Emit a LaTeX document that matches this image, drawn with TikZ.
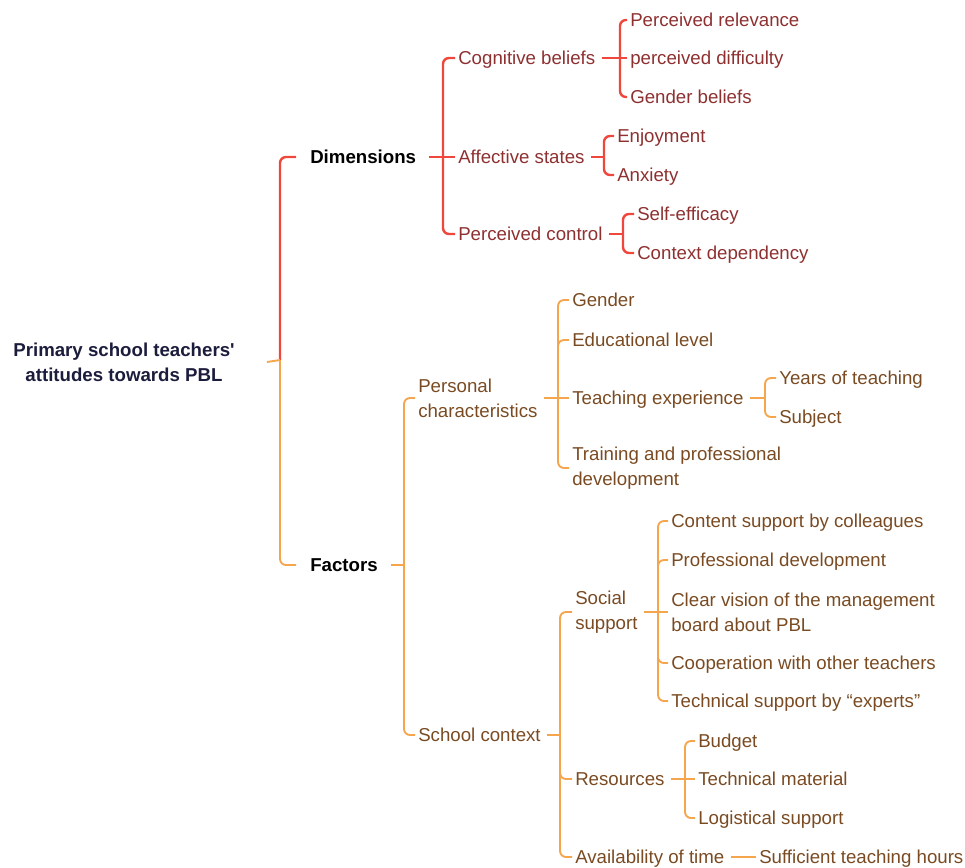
\documentclass[tikz,border=0pt]{standalone}
\usepackage{fontspec}
\setmainfont{Liberation Sans}
\usetikzlibrary{calc}
\definecolor{redline}{HTML}{F0473D}
\definecolor{redtext}{HTML}{8E3030}
\definecolor{orline}{HTML}{F5A54C}
\definecolor{ortext}{HTML}{7A4B22}
\definecolor{roottext}{HTML}{1C1C3C}
\tikzset{
  lbl/.style={anchor=west, inner sep=0pt, font=\fontsize{14}{18.75}\selectfont, text height=10pt, text depth=0pt},
  mlbl/.style={anchor=west, inner sep=0pt, font=\fontsize{14}{18.75}\selectfont, align=left},
  rl/.style={lbl, text=redtext},
  ol/.style={lbl, text=ortext},
  oml/.style={mlbl, text=ortext},
  bl/.style={lbl, text=black, font=\fontsize{14}{18.75}\selectfont\bfseries},
  rline/.style={draw=redline, line width=1.8pt, rounded corners=4.5pt},
  oline/.style={draw=orline, line width=1.4pt, rounded corners=4.5pt},
}
\begin{document}
\begin{tikzpicture}[x=0.75pt,y=-0.75pt]
\useasboundingbox (0,0) rectangle (965,868);
% root
\node[inner sep=0pt, align=center, text=roottext, font=\fontsize{14}{18.75}\selectfont\bfseries] (root) at (124,362) {Primary school teachers\textquotesingle\\attitudes towards PBL};
\node[bl] (dim) at (310,157) {Dimensions};
\node[bl] (fac) at (310,565) {Factors};
% dimensions subtree
\node[rl] (cog) at (458,58) {Cognitive beliefs};
\node[rl] (aff) at (458,157) {Affective states};
\node[rl] (pc) at (458,234) {Perceived control};
\node[rl] (rel) at (630,20) {Perceived relevance};
\node[rl] (dif) at (630,58) {perceived difficulty};
\node[rl] (gen) at (630,97) {Gender beliefs};
\node[rl] (enj) at (617,136) {Enjoyment};
\node[rl] (anx) at (617,175) {Anxiety};
\node[rl] (se) at (637,214) {Self-efficacy};
\node[rl] (cd) at (637,253) {Context dependency};
% factors subtree
\node[oml] (per) at (418,398) {Personal\\characteristics};
\node[ol] (sch) at (418,735) {School context};
\node[ol] (gnd) at (572,300) {Gender};
\node[ol] (edu) at (572,340) {Educational level};
\node[ol] (tex) at (572,398) {Teaching experience};
\node[oml] (trn) at (572,468) {Training and professional\\development};
\node[ol] (yrs) at (779,378) {Years of teaching};
\node[ol] (sub) at (779,417) {Subject};
\node[oml] (soc) at (575,612) {Social\\support};
\node[ol] (res) at (575,779) {Resources};
\node[ol] (av) at (575,857) {Availability of time};
\node[ol] (con) at (671,521) {Content support by colleagues};
\node[ol] (pd) at (671,560) {Professional development};
\node[oml] (cv) at (671,612) {Clear vision of the management\\board about PBL};
\node[ol] (coop) at (671,663) {Cooperation with other teachers};
\node[ol] (tech) at (671,701) {Technical support by “experts”};
\node[ol] (bud) at (698,741) {Budget};
\node[ol] (tm) at (698,779) {Technical material};
\node[ol] (log) at (698,818) {Logistical support};
\node[ol] (suf) at (759,857) {Sufficient teaching hours};
% junctions
\coordinate (jroot) at (280,360);
\coordinate (jdim) at (443,157);
\coordinate (jcog) at (620,58);
\coordinate (jaff) at (604,157);
\coordinate (jpc) at (623,234);
\coordinate (jfac) at (404,565);
\coordinate (jper) at (558,398);
\coordinate (jtex) at (765,398);
\coordinate (jsch) at (560,735);
\coordinate (jsoc) at (658,612);
\coordinate (jres) at (685,779);
% root connectors
\draw[rline] (jroot) |- ($(dim.west)+(-14,0)$);
\draw[oline] (jroot) |- ($(fac.west)+(-14,0)$);
\draw[oline] ($(root.east)+(32,0)$) -- (jroot);
% dimensions
\draw[rline] ($(dim.east)+(13,0)$) -- ($(aff.west)+(-3,0)$);
\foreach \c in {cog,pc} \draw[rline] (jdim) |- ($(\c.west)+(-3,0)$);
\draw[rline] ($(cog.east)+(6,0)$) -- ($(dif.west)+(-3,0)$);
\foreach \c in {rel,gen} \draw[rline] (jcog) |- ($(\c.west)+(-3,0)$);
\draw[rline] ($(aff.east)+(6,0)$) -- (jaff);
\foreach \c in {enj,anx} \draw[rline] (jaff) |- ($(\c.west)+(-3,0)$);
\draw[rline] ($(pc.east)+(6,0)$) -- (jpc);
\foreach \c in {se,cd} \draw[rline] (jpc) |- ($(\c.west)+(-3,0)$);
% factors
\draw[oline] ($(fac.east)+(13,0)$) -- (jfac);
\foreach \c in {per,sch} \draw[oline] (jfac) |- ($(\c.west)+(-3,0)$);
\draw[oline] ($(per.east)+(6,0)$) -- ($(tex.west)+(-3,0)$);
\foreach \c in {gnd,edu,trn} \draw[oline] (jper) |- ($(\c.west)+(-3,0)$);
\draw[oline] ($(tex.east)+(6,0)$) -- (jtex);
\foreach \c in {yrs,sub} \draw[oline] (jtex) |- ($(\c.west)+(-3,0)$);
\draw[oline] ($(sch.east)+(6,0)$) -- (jsch);
\foreach \c in {soc,res,av} \draw[oline] (jsch) |- ($(\c.west)+(-3,0)$);
\draw[oline] ($(soc.east)+(6,0)$) -- ($(cv.west)+(-3,0)$);
\foreach \c in {con,pd,coop,tech} \draw[oline] (jsoc) |- ($(\c.west)+(-3,0)$);
\draw[oline] ($(res.east)+(6,0)$) -- ($(tm.west)+(-3,0)$);
\foreach \c in {bud,log} \draw[oline] (jres) |- ($(\c.west)+(-3,0)$);
\draw[oline] ($(av.east)+(6,0)$) -- ($(suf.west)+(-3,0)$);
\end{tikzpicture}
\end{document}
